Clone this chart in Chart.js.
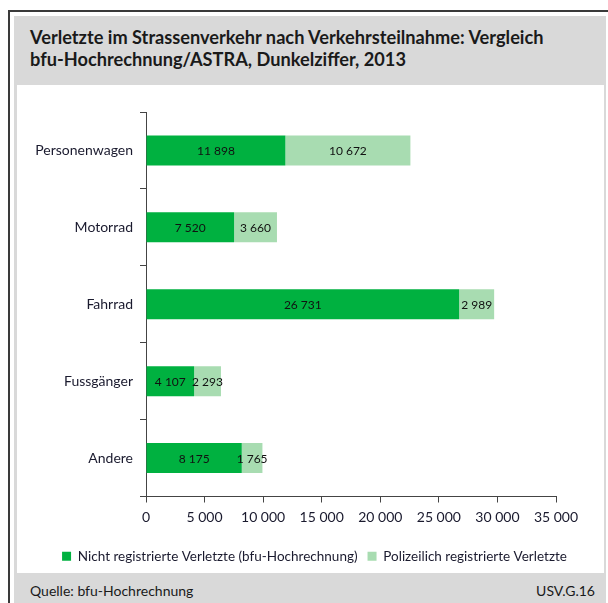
<!DOCTYPE html>
<html>
<head>
<meta charset="utf-8">
<script src="https://cdn.jsdelivr.net/npm/chart.js@4"></script>
<style>
  body { margin: 0; width: 608px; height: 603px; background: #fff; position: relative; overflow: hidden;
         font-family: Lato, sans-serif; }
  #rahmen { position: absolute; left: 8px; top: 10px; width: 600px; height: 593px;
            border-left: 2px solid #3a3a3a; border-top: 2px solid #3a3a3a; box-sizing: border-box; }
  #panel { position: absolute; left: 14px; top: 16px; width: 592px; height: 587px; background: #d9d9d9; }
  #titel { position: absolute; left: 30px; top: 26px; font-size: 18.2px; font-weight: bold; color: #1a1a1a; line-height: 22px; white-space: nowrap; }
  #weiss { position: absolute; left: 17px; top: 85px; width: 587px; height: 488px; background: #fff; }
  #quelle { position: absolute; left: 30px; top: 582px; font-size: 14px; color: #1a1a1a; }
  #code { position: absolute; right: 13px; top: 582px; font-size: 14px; color: #1a1a1a; }
</style>
</head>
<body>
<div id="rahmen"></div>
<div id="panel"></div>
<div id="titel">Verletzte im Strassenverkehr nach Verkehrsteilnahme: Vergleich<br>bfu-Hochrechnung/ASTRA, Dunkelziffer, 2013</div>
<div id="weiss"><canvas id="grafik" width="587" height="488"></canvas></div>
<div id="quelle">Quelle: bfu-Hochrechnung</div>
<div id="code">USV.G.16</div>
<script>
const kategorien = ['Personenwagen', 'Motorrad', 'Fahrrad', 'Fussgänger', 'Andere'];
const nichtRegistriert = [11898, 7520, 26731, 4107, 8175];
const polizeilich = [10672, 3660, 2989, 2293, 1765];
const xTicks = [0, 5000, 10000, 15000, 20000, 25000, 30000, 35000];

const schrift = 'Lato, sans-serif';

function tausender(v) {
    return String(v).replace(/\B(?=(\d{3})+(?!\d))/g, ' ');
}

// Werte in die Balken schreiben
const balkenWerte = {
    id: 'balkenWerte',
    afterDatasetsDraw(chart) {
        const ctx = chart.ctx;
        ctx.save();
        ctx.font = '12px ' + schrift;
        ctx.fillStyle = '#111';
        ctx.textAlign = 'center';
        ctx.textBaseline = 'middle';
        chart.data.datasets.forEach((ds, i) => {
            chart.getDatasetMeta(i).data.forEach((bar, j) => {
                const mitte = (bar.x + bar.base) / 2;
                ctx.fillText(tausender(ds.data[j]), mitte, bar.y + 1);
            });
        });
        ctx.restore();
    }
};

// Legende über die ganze Breite zentrieren (nicht nur über den Bereich ohne rechten Rand)
const legendeMitte = {
    id: 'legendeMitte',
    afterLayout(chart) {
        const lg = chart.legend;
        lg.left = 8;
        lg.width = chart.width - 8;
        lg.right = chart.width;
    }
};

new Chart(document.getElementById('grafik'), {
    type: 'bar',
    data: {
        labels: kategorien,
        datasets: [{
            label: 'Nicht registrierte Verletzte (bfu-Hochrechnung)',
            data: nichtRegistriert,
            backgroundColor: '#00b140',
            barPercentage: 0.39,
            categoryPercentage: 1
        }, {
            label: 'Polizeilich registrierte Verletzte',
            data: polizeilich,
            backgroundColor: '#a8dcb1',
            barPercentage: 0.39,
            categoryPercentage: 1
        }]
    },
    options: {
        indexAxis: 'y',
        responsive: false,
        animation: false,
        layout: { padding: { top: 27, right: 48, bottom: 0, left: 0 } },
        scales: {
            x: {
                stacked: true,
                min: 0,
                max: 35000,
                afterBuildTicks: axis => { axis.ticks = xTicks.map(v => ({ value: v })); },
                afterFit: axis => { axis.height = 43; },
                border: { color: '#444', width: 1 },
                grid: { drawOnChartArea: false, color: '#444', tickLength: 6 },
                ticks: {
                    color: '#1a1a2e',
                    font: { family: schrift, size: 14 },
                    padding: 7,
                    maxRotation: 0,
                    callback: v => tausender(v)
                }
            },
            y: {
                stacked: true,
                afterFit: axis => { axis.width = 129; },
                border: { color: '#444', width: 1 },
                grid: { drawOnChartArea: false, color: '#444', tickLength: 6, offset: true },
                ticks: {
                    color: '#1a1a2e',
                    font: { family: schrift, size: 14 },
                    padding: 7
                }
            }
        },
        plugins: {
            legend: {
                position: 'bottom',
                labels: {
                    color: '#1a1a2e',
                    font: { family: schrift, size: 13.5 },
                    boxWidth: 9,
                    boxHeight: 9,
                    padding: 10
                }
            },
            tooltip: { enabled: false }
        }
    },
    plugins: [balkenWerte, legendeMitte]
});
</script>
</body>
</html>
